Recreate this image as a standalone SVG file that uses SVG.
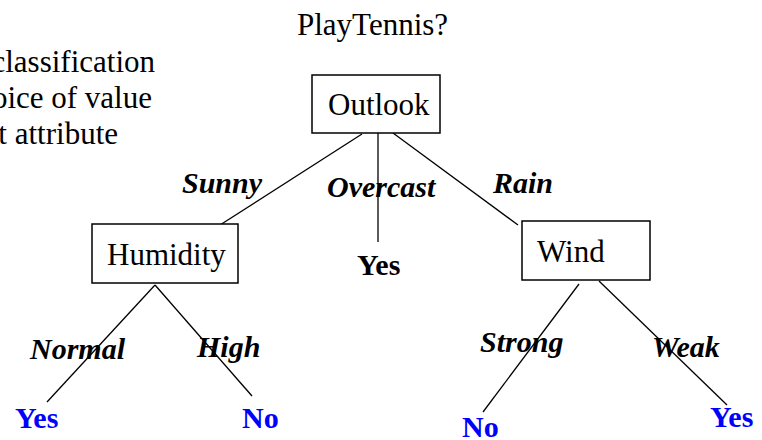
<svg xmlns="http://www.w3.org/2000/svg" width="762" height="440" viewBox="0 0 762 440">
<style>
text{font-family:"Liberation Serif","Times New Roman",serif;font-size:31px;fill:#000}
.box{fill:#fff;stroke:#000;stroke-width:1.5}
.edge{stroke:#000;stroke-width:1.3;fill:none}
.lbl{font-weight:bold;font-style:italic;font-size:30px}
.leaf{font-weight:bold;font-size:30px}
.blue{fill:#0000ff}
</style>
<rect width="762" height="440" fill="#fff"/>
<text x="297" y="35">PlayTennis?</text>
<g id="side-text">
<text x="155" y="72" text-anchor="end">classification</text>
<text x="152" y="108" text-anchor="end">oice of value</text>
<text x="118" y="144" text-anchor="end">t attribute</text>
</g>
<g id="connectors">
<line class="edge" x1="362" y1="134" x2="220" y2="225"/>
<line class="edge" x1="378" y1="133" x2="378" y2="242"/>
<line class="edge" x1="393" y1="133" x2="518" y2="225"/>
<line class="edge" x1="155" y1="285" x2="47" y2="402"/>
<line class="edge" x1="155" y1="285" x2="252" y2="396"/>
<line class="edge" x1="579" y1="284" x2="483" y2="412"/>
<line class="edge" x1="599" y1="281" x2="727" y2="405"/>
<text class="lbl" x="182" y="193">Sunny</text>
<text class="lbl" x="327" y="197">Overcast</text>
<text class="lbl" x="493" y="193">Rain</text>
<text class="lbl" x="30" y="359">Normal</text>
<text class="lbl" x="197" y="357">High</text>
<text class="lbl" x="480" y="352">Strong</text>
<text class="lbl" x="652" y="357">Weak</text>
</g>
<g id="outlook">
<rect class="box" x="312" y="75" width="128" height="58"/>
<text x="328" y="115">Outlook</text>
</g>
<g id="humidity">
<rect class="box" x="92" y="224" width="146" height="59"/>
<text x="107" y="265">Humidity</text>
</g>
<g id="wind">
<rect class="box" x="522" y="221" width="128" height="59"/>
<text x="537" y="262">Wind</text>
</g>
<g id="overcast-yes"><text class="leaf" x="357" y="275">Yes</text></g>
<g id="normal-yes"><text class="leaf blue" x="15" y="428">Yes</text></g>
<g id="high-no"><text class="leaf blue" x="242" y="428">No</text></g>
<g id="strong-no"><text class="leaf blue" x="462" y="437">No</text></g>
<g id="weak-yes"><text class="leaf blue" x="710" y="427">Yes</text></g>
</svg>
